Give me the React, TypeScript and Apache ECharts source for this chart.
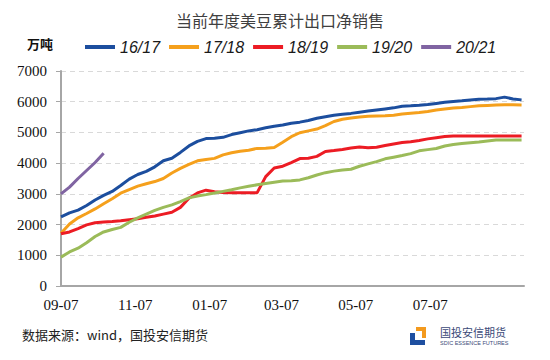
import React, { useEffect, useRef } from "react";
import * as echarts from "echarts";

const DAYS_PER_WEEK = 7;
const xTickDays = [0, 61, 122, 181, 242, 303];
const xTickLabels = ["09-07", "11-07", "01-07", "03-07", "05-07", "07-07"];
const yTicks = [0, 1000, 2000, 3000, 4000, 5000, 6000, 7000];
const seriesNames = ["16/17", "17/18", "18/19", "19/20", "20/21"];

const s1617 = [
  2250, 2380, 2470, 2620, 2800, 2950, 3080, 3270, 3480, 3630,
  3730, 3880, 4080, 4160, 4350, 4560, 4710, 4800, 4810, 4840,
  4930, 4990, 5050, 5090, 5150, 5200, 5240, 5300, 5335, 5390,
  5460, 5510, 5560, 5595, 5620, 5660, 5695, 5730, 5765, 5800,
  5855, 5865, 5885, 5910, 5945, 5980, 6010, 6030, 6055, 6080,
  6085, 6100, 6150, 6090, 6060,
];
const s1718 = [
  1720, 2020, 2220, 2360, 2510, 2680, 2840, 3020, 3140, 3250,
  3330, 3400, 3500, 3680, 3830, 3960, 4075, 4120, 4155, 4270,
  4340, 4390, 4420, 4480, 4485, 4510, 4680, 4860, 4990, 5050,
  5110, 5220, 5355, 5430, 5470, 5505, 5530, 5535, 5540, 5560,
  5600, 5625, 5650, 5680, 5730, 5765, 5795, 5815, 5840, 5865,
  5880, 5893, 5905, 5900, 5893,
];
const s1819 = [
  1700, 1760, 1870, 1990, 2060, 2080, 2100, 2125, 2160, 2190,
  2235, 2280, 2340, 2400, 2560, 2860, 3030, 3120, 3070, 3045,
  3040, 3040, 3040, 3040, 3560, 3840, 3900, 4020, 4150, 4160,
  4220, 4380, 4410, 4445, 4490, 4525, 4500, 4520, 4575, 4625,
  4670, 4700, 4740, 4790, 4830, 4865, 4880, 4880, 4885, 4885,
  4885, 4885, 4885, 4885, 4885,
];
const s1920 = [
  940, 1110, 1230, 1410, 1610, 1760, 1840, 1910, 2075, 2220,
  2340, 2460, 2560, 2640, 2750, 2870, 2930, 2975, 3025, 3080,
  3135, 3195, 3245, 3295, 3340, 3380, 3415, 3430, 3455, 3525,
  3615, 3690, 3740, 3775, 3800, 3900, 3975, 4050, 4140, 4195,
  4250, 4310, 4400, 4440, 4475, 4560, 4610, 4640, 4665, 4690,
  4720, 4750, 4755, 4755, 4755,
];
const s2021 = [3000, 3220, 3500, 3760, 4020, 4320];

const seriesValues = [s1617, s1718, s1819, s1920, s2021];
const seriesColors = ["#1C4E9E", "#F5A01C", "#EC1C24", "#9BBB59", "#8064A2"];

const SERIF = "'Liberation Serif', 'Times New Roman', serif";

export default function App() {
  const ref = useRef<HTMLDivElement>(null);
  useEffect(() => {
    if (!ref.current) return;
    const chart = echarts.init(ref.current, undefined, { renderer: "svg" });
    const labelFor = (v: number) => {
      const i = xTickDays.indexOf(v);
      return i >= 0 ? xTickLabels[i] : "";
    };
    chart.setOption({
      animation: false,
      backgroundColor: "#fff",
      grid: { left: 61, right: 26, top: 71, bottom: 74, containLabel: false },
      legend: {
        left: 80,
        top: 34,
        itemWidth: 30,
        itemHeight: 4,
        itemGap: 9,
        icon: "rect",
        data: seriesNames,
        textStyle: {
          fontSize: 16,
          fontStyle: "italic",
          fontFamily: "'Liberation Sans', Arial, sans-serif",
          color: "#1a1a1a",
        },
      },
      xAxis: {
        type: "value",
        min: 0,
        max: 380,
        splitLine: { show: false },
        axisLine: { show: true, lineStyle: { color: "#A6A6A6", width: 2 } },
        axisTick: { show: false },
        axisLabel: {
          customValues: xTickDays,
          formatter: (v: number) => labelFor(v),
          fontSize: 15,
          fontFamily: SERIF,
          color: "#111",
          margin: 11,
        },
      },
      yAxis: {
        type: "value",
        min: yTicks[0],
        max: yTicks[yTicks.length - 1],
        interval: 1000,
        axisLine: { show: true, lineStyle: { color: "#A6A6A6", width: 2 } },
        axisTick: { show: true, length: 5, lineStyle: { color: "#A6A6A6", width: 1 } },
        splitLine: { show: true, lineStyle: { color: "#D9D9D9", type: [5, 4], width: 1 } },
        axisLabel: {
          formatter: (v: number) => String(v),
          fontSize: 15,
          fontFamily: SERIF,
          color: "#111",
          margin: 14,
        },
      },
      series: seriesNames.map((name, si) => ({
        name,
        type: "line",
        symbol: "none",
        smooth: false,
        color: seriesColors[si],
        lineStyle: { width: 3, color: seriesColors[si] },
        data: seriesValues[si].map((v, i) => [i * DAYS_PER_WEEK, v]),
      })),
      graphic: [
        {
          type: "text",
          x: 280,
          y: 20,
          style: {
            text: "当前年度美豆累计出口净销售",
            fontSize: 16,
            fontFamily: "'Noto Sans CJK SC', sans-serif",
            fill: "#404040",
            textAlign: "center",
            textVerticalAlign: "middle",
          },
        },
        {
          type: "text",
          x: 27,
          y: 43,
          style: {
            text: "万吨",
            fontSize: 13,
            fontWeight: "bold",
            fontFamily: "'Noto Sans CJK SC', sans-serif",
            fill: "#111",
            textVerticalAlign: "middle",
          },
        },
        {
          type: "text",
          x: 22,
          y: 334,
          style: {
            text: "数据来源：wind，国投安信期货",
            fontSize: 13,
            fontFamily: "'Noto Sans CJK SC', sans-serif",
            fill: "#222",
            textVerticalAlign: "middle",
          },
        },
        { type: "rect", shape: { x: 410, y: 333, width: 5, height: 12 }, style: { fill: "#1E4FA0" } },
        { type: "rect", shape: { x: 410, y: 340, width: 15, height: 5 }, style: { fill: "#1E4FA0" } },
        { type: "rect", shape: { x: 416, y: 327, width: 10, height: 4 }, style: { fill: "#F39A1E" } },
        { type: "rect", shape: { x: 422, y: 327, width: 4, height: 11 }, style: { fill: "#F39A1E" } },
        {
          type: "text",
          x: 440,
          y: 332,
          style: {
            text: "国投安信期货",
            fontSize: 11,
            fontFamily: "'Noto Sans CJK SC', sans-serif",
            fill: "#3B4A78",
            textVerticalAlign: "middle",
          },
        },
        {
          type: "text",
          x: 440,
          y: 343,
          style: {
            text: "SDIC ESSENCE FUTURES",
            fontSize: 5.5,
            fontFamily: "'Liberation Sans', Arial, sans-serif",
            fill: "#3B4A78",
            textVerticalAlign: "middle",
          },
        },
      ],
    });
    return () => chart.dispose();
  }, []);
  return (
    <div
      ref={ref}
      style={{ position: "fixed", left: 0, top: 0, width: 550, height: 360 }}
    />
  );
}
